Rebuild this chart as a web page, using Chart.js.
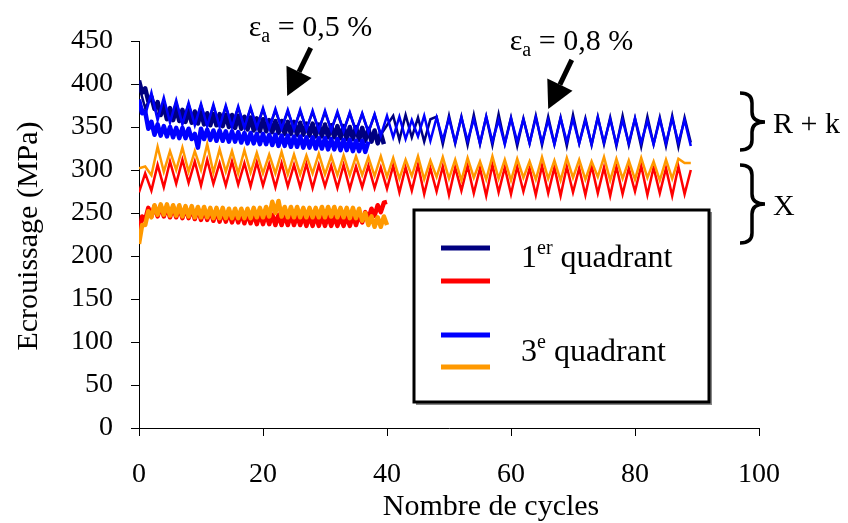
<!DOCTYPE html>
<html>
<head>
<meta charset="utf-8">
<script src="https://cdn.jsdelivr.net/npm/chart.js@4"></script>
<style>
  body { margin: 0; background: #fff; }
  #wrap { width: 848px; height: 523px; }
</style>
</head>
<body>
<div id="wrap"><canvas id="chart"></canvas></div>
<script>
const serif = "'Liberation Serif', 'DejaVu Serif', serif";

// x values: half cycles for the dense 0.5 % test, whole cycles for the 0.8 % test
const cyclesDense = [0,0.5,1,1.5,2,2.5,3,3.5,4,4.5,5,5.5,6,6.5,7,7.5,8,8.5,9,9.5,10,10.5,11,11.5,12,12.5,13,13.5,14,14.5,15,15.5,16,16.5,17,17.5,18,18.5,19,19.5,20,20.5,21,21.5,22,22.5,23,23.5,24,24.5,25,25.5,26,26.5,27,27.5,28,28.5,29,29.5,30,30.5,31,31.5,32,32.5,33,33.5,34,34.5,35,35.5,36,36.5,37,37.5,38,38.5,39,39.5,40];
const cycles = [0,1,2,3,4,5,6,7,8,9,10,11,12,13,14,15,16,17,18,19,20,21,22,23,24,25,26,27,28,29,30,31,32,33,34,35,36,37,38,39,40,41,42,43,44,45,46,47,48,49,50,51,52,53,54,55,56,57,58,59,60,61,62,63,64,65,66,67,68,69,70,71,72,73,74,75,76,77,78,79,80,81,82,83,84,85,86,87,88,89];

// eps_a = 0,5 %  (MPa)
const navyDense = [404,390,395,380,385,371,379,364,374,359,372,358,371,357,370,356,369,355,368,354,
  367,353,366,352,365,352,365,351,364,350,364,349,363,348,362,347,361,346,360,345,
  359,345,358,344,357,343,357,342,356,342,356,341,355,341,354,340,354,339,353,339,
  353,338,352,338,351,337,351,336,350,336,350,335,349,334,348,333,346,331,343,330];
const blueDense = [382,366,368,348,356,341,353,340,351,339,350,338,349,337,349,337,348,336,342,326,
  348,336,347,335,346,334,346,334,345,333,345,333,344,332,343,331,343,331,342,330,
  342,330,341,329,341,328,340,328,340,327,339,327,339,326,338,326,338,325,337,325,
  337,324,336,324,336,323,335,323,335,322,334,322,334,321,333];
const redDense = [224,246,242,256,246,258,246,258,246,257,245,257,245,256,244,256,244,255,243,255,
  242,254,242,253,241,253,240,252,240,251,239,251,239,250,238,250,238,249,237,249,
  237,249,237,248,236,248,236,248,236,248,236,247,236,247,235,247,235,247,235,247,
  235,247,235,246,235,246,235,246,235,247,236,248,239,251,243,255,247,259,251,262,263];
const orangeDense = [214,236,236,252,245,259,248,260,248,260,247,259,247,259,246,258,246,258,245,257,
  245,257,245,256,244,256,244,256,244,255,244,255,244,255,244,255,244,256,245,256,
  245,257,246,263,250,264,246,257,245,257,245,257,245,256,245,256,245,256,245,257,
  245,257,246,257,245,256,245,256,244,256,244,255,241,250,236,246,234,245,234,246,236];

// eps_a = 0,8 %  (MPa)
const navy08 = [398,372,386,362,380,358,378,356,376,354, 375,353,374,352,373,352,372,351,371,350,
  370,349,369,349,368,348,368,348,367,347, 367,347,366,346,366,345,365,344,364,341,
  352,363,335,364,338,361,333,359,362,330, 363,331,362,329,364,330,362,329,365,331,
  361,328,360,331,363,329,362,330,361,328, 364,331,360,329,362,330,361,328,363,329,
  360,327,362,330,361,328,363,327,361,332];
const blue08 = [380,364,390,358,384,355,381,353,378,352, 377,351,376,350,375,350,374,349,373,349,
  372,348,371,348,370,347,370,347,369,346, 369,346,368,345,367,345,366,344,365,340,
  363,338,362,336,358,339,363,334,361,335, 360,332,361,334,359,331,362,333,358,330,
  360,333,359,331,361,332,358,330,360,333, 359,331,358,330,361,332,359,330,358,331,
  360,332,357,330,359,331,360,332,358,328];
const red08 = [274,296,276,306,280,310,284,312,285,310, 282,312,284,308,282,310,283,308,281,309,
  282,307,280,308,281,306,280,307,279,306, 281,305,279,306,278,304,280,305,279,303,
  278,305,274,303,276,306,272,302,275,304, 271,303,276,305,273,302,270,306,274,303,
  272,304,275,302,271,305,273,303,270,304, 274,302,271,305,273,303,270,304,272,302,
  275,305,271,303,273,302,270,304,272,300];
const orange08 = [302,304,294,327,298,322,300,326,298,322, 300,330,297,324,298,322,296,323,297,320,
  296,318,296,321,295,318,295,317,296,319, 295,316,294,317,294,316,294,315,293,316,
  292,314,290,312,293,316,289,311,292,315, 290,312,288,314,291,310,289,316,290,312,
  288,313,291,310,289,315,290,311,288,314, 291,312,289,310,292,315,288,313,290,311,
  289,314,291,310,288,312,290,313,308,308];

const yTicks = [0,50,100,150,200,250,300,350,400,450];
const xTicks = [0,20,40,60,80,100];

const colNavy = '#000080', colRed = '#ff0000', colBlue = '#0000ff', colOrange = '#ff9900';

function pts(xs, vals) { return vals.map((v, i) => ({ x: xs[i], y: v })); }
function line(data, color, w, join) {
  return { data, borderColor: color, backgroundColor: color, borderWidth: w,
           pointRadius: 0, tension: 0, fill: false, borderJoinStyle: join };
}

function drawArrow(ctx, x1, y1, x2, y2) {
  const a = Math.atan2(y2 - y1, x2 - x1), len = 27, hw = 14;
  const bx = x2 - len * Math.cos(a), by = y2 - len * Math.sin(a);
  ctx.lineWidth = 5;
  ctx.beginPath(); ctx.moveTo(x1, y1); ctx.lineTo(bx, by); ctx.stroke();
  ctx.beginPath();
  ctx.moveTo(x2, y2);
  ctx.lineTo(bx + hw * Math.sin(a), by - hw * Math.cos(a));
  ctx.lineTo(bx - hw * Math.sin(a), by + hw * Math.cos(a));
  ctx.closePath(); ctx.fill();
}

function drawBrace(ctx, x0, xm, xt, y0, ym, y1) {
  const r = 10;
  ctx.lineWidth = 3.5;
  ctx.beginPath();
  ctx.moveTo(x0, y0);
  ctx.quadraticCurveTo(xm, y0, xm, y0 + r);
  ctx.lineTo(xm, ym - r);
  ctx.quadraticCurveTo(xm, ym, xt, ym);
  ctx.quadraticCurveTo(xm, ym, xm, ym + r);
  ctx.lineTo(xm, y1 - r);
  ctx.quadraticCurveTo(xm, y1, x0, y1);
  ctx.stroke();
}

function drawEps(ctx, x, y, rest) {
  ctx.textAlign = 'left';
  ctx.font = `30px ${serif}`;
  ctx.fillText('ε', x, y);
  let cx = x + ctx.measureText('ε').width;
  ctx.font = `20px ${serif}`;
  ctx.fillText('a', cx, y + 6);
  cx += ctx.measureText('a').width;
  ctx.font = `30px ${serif}`;
  ctx.fillText(rest, cx, y);
}

function drawSup(ctx, x, y, base, sup, rest) {
  ctx.textAlign = 'left';
  ctx.font = `32px ${serif}`;
  ctx.fillText(base, x, y);
  let cx = x + ctx.measureText(base).width;
  ctx.font = `20px ${serif}`;
  ctx.fillText(sup, cx, y - 13);
  cx += ctx.measureText(sup).width;
  ctx.font = `32px ${serif}`;
  ctx.fillText(rest, cx, y);
}

const decor = {
  id: 'decor',
  afterDraw(chart) {
    const { ctx, scales: { x, y } } = chart;
    const X = v => x.getPixelForValue(v), Y = v => y.getPixelForValue(v);
    ctx.save();
    ctx.fillStyle = '#000';
    ctx.strokeStyle = '#000';

    // axis titles
    ctx.font = `30px ${serif}`;
    ctx.textAlign = 'center';
    ctx.fillText('Nombre de cycles', 491, 515);
    ctx.save();
    ctx.translate(37, 236);
    ctx.rotate(-Math.PI / 2);
    ctx.fillText('Ecrouissage (MPa)', 0, 0);
    ctx.restore();

    // strain amplitude annotations
    drawEps(ctx, X(17.7), Y(456), ' = 0,5 %');
    drawArrow(ctx, X(27.7), Y(442), X(23.9), Y(386));
    drawEps(ctx, X(59.8), Y(439), ' = 0,8 %');
    drawArrow(ctx, X(69.8), Y(428), X(66.0), Y(371));

    // braces
    drawBrace(ctx, 740, 752, 765, 93, 122, 150);
    drawBrace(ctx, 740, 752, 765, 165, 204, 243);
    ctx.font = `30px ${serif}`;
    ctx.textAlign = 'left';
    ctx.fillText('R + k', 773, 133);
    ctx.fillText('X', 773, 215);

    // legend box
    ctx.fillStyle = '#888';
    ctx.fillRect(416, 212, 296, 193);
    ctx.fillStyle = '#fff';
    ctx.fillRect(414, 210, 295, 192);
    ctx.lineWidth = 3;
    ctx.strokeRect(414, 210, 295, 192);
    const swatches = [[colNavy, 248], [colRed, 281], [colBlue, 335], [colOrange, 367]];
    ctx.lineWidth = 5;
    swatches.forEach(([c, yy]) => {
      ctx.strokeStyle = c;
      ctx.beginPath(); ctx.moveTo(441, yy); ctx.lineTo(490, yy); ctx.stroke();
    });
    ctx.fillStyle = '#000';
    drawSup(ctx, 521, 267, '1', 'er', ' quadrant');
    drawSup(ctx, 521, 361, '3', 'e', ' quadrant');
    ctx.restore();
  }
};

new Chart(document.getElementById('chart'), {
  type: 'line',
  data: {
    datasets: [
      line(pts(cycles, orange08), colOrange, 2.5, 'miter'),
      line(pts(cycles, red08), colRed, 2.5, 'miter'),
      line(pts(cycles, blue08), colBlue, 2.5, 'miter'),
      line(pts(cycles, navy08), colNavy, 2.5, 'miter'),
      line(pts(cyclesDense, orangeDense), colOrange, 4.5, 'round'),
      line(pts(cyclesDense, redDense), colRed, 4.5, 'round'),
      line(pts(cyclesDense, blueDense), colBlue, 4.5, 'round'),
      line(pts(cyclesDense, navyDense), colNavy, 4.5, 'round')
    ]
  },
  options: {
    responsive: true,
    maintainAspectRatio: false,
    animation: false,
    layout: { padding: { left: 0, right: 89, top: 41, bottom: 0 } },
    plugins: { legend: { display: false }, tooltip: { enabled: false } },
    scales: {
      x: {
        type: 'linear', min: 0, max: 100,
        afterFit: s => { s.height = 95; },
        afterBuildTicks: s => { s.ticks = xTicks.map(v => ({ value: v })); },
        grid: { display: true, drawOnChartArea: false, drawTicks: true, tickLength: 8, color: '#000' },
        border: { color: '#000', width: 1 },
        ticks: { color: '#000', padding: 22, maxRotation: 0, font: { family: serif, size: 28 } }
      },
      y: {
        type: 'linear', min: 0, max: 450,
        afterFit: s => { s.width = 139; },
        afterBuildTicks: s => { s.ticks = yTicks.map(v => ({ value: v })); },
        grid: { display: true, drawOnChartArea: false, drawTicks: true, tickLength: 8, color: '#000' },
        border: { color: '#000', width: 1 },
        ticks: { color: '#000', padding: 18, font: { family: serif, size: 28 } }
      }
    }
  },
  plugins: [decor]
});
</script>
</body>
</html>
